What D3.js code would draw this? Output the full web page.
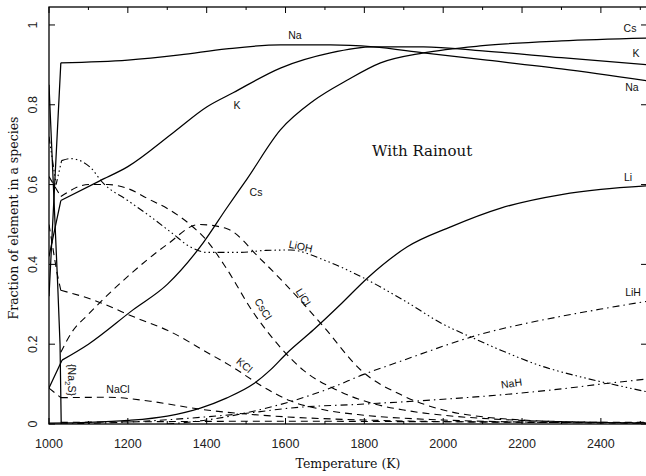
<!DOCTYPE html>
<meta charset="utf-8">
<title>With Rainout</title>
<style>
    body { margin: 0; background: #fff; }
    svg { display: block; }
    .tick-label { font-family: "Liberation Sans", Arial, sans-serif; font-size: 12.5px; fill: #222; }
    .axis-title { font-family: "DejaVu Serif", serif; font-size: 12.5px; fill: #111; }
    .curve-label { font-family: "Liberation Sans", Arial, sans-serif; font-size: 10.5px; fill: #111; }
    .curve { fill: none; stroke: #000; }
</style>
<svg width="646" height="476"></svg>
<script src="https://d3js.org/d3.v7.min.js"></script>
<script>

    // data: [temperature (K), fraction]
    var naData   = [[1000,0.32],[1030,0.905],[1200,0.912],[1332,0.925],[1450,0.94],[1587,0.95],[1714,0.95],[1823,0.945],[1950,0.93],[2100,0.913],[2300,0.89],[2520,0.86]];
    var kData    = [[1000,0.42],[1030,0.56],[1130,0.61],[1200,0.645],[1315,0.73],[1401,0.795],[1467,0.83],[1587,0.892],[1714,0.93],[1823,0.945],[1950,0.945],[2100,0.935],[2300,0.918],[2520,0.90]];
    var csData   = [[1000,0.09],[1033,0.16],[1100,0.2],[1213,0.286],[1300,0.35],[1391,0.454],[1450,0.54],[1503,0.615],[1587,0.737],[1671,0.81],[1757,0.862],[1841,0.905],[1950,0.93],[2100,0.948],[2300,0.96],[2520,0.967]];
    var liData   = [[1000,0.002],[1100,0.004],[1200,0.009],[1300,0.02],[1384,0.04],[1450,0.065],[1518,0.1],[1561,0.135],[1604,0.178],[1671,0.236],[1740,0.3],[1808,0.366],[1909,0.444],[2019,0.494],[2146,0.541],[2300,0.575],[2400,0.588],[2520,0.597]];
    var na2sData = [[1000,0.85],[1022,0.35],[1028,0.2],[1031,0]];
    var liohData = [[1000,0.72],[1018,0.6],[1032,0.66],[1055,0.665],[1104,0.644],[1137,0.604],[1200,0.56],[1257,0.52],[1310,0.48],[1358,0.444],[1401,0.43],[1485,0.43],[1550,0.435],[1612,0.436],[1700,0.41],[1790,0.37],[1900,0.31],[2000,0.25],[2070,0.218],[2146,0.185],[2250,0.145],[2349,0.118],[2450,0.095],[2520,0.08]];
    var csclData = [[1000,0.62],[1030,0.57],[1100,0.6],[1150,0.6],[1200,0.59],[1250,0.565],[1300,0.54],[1358,0.5],[1400,0.46],[1450,0.39],[1518,0.28],[1580,0.2],[1645,0.135],[1730,0.085],[1815,0.053],[1900,0.035],[2000,0.022],[2100,0.014],[2200,0.009],[2400,0.004],[2520,0.003]];
    var liclData = [[1030,0.18],[1058,0.23],[1100,0.275],[1200,0.37],[1300,0.45],[1380,0.5],[1450,0.49],[1536,0.414],[1600,0.35],[1700,0.24],[1790,0.136],[1900,0.07],[2000,0.035],[2100,0.018],[2200,0.01],[2400,0.004],[2520,0.002]];
    var kclData  = [[1000,0.5],[1020,0.38],[1030,0.335],[1100,0.315],[1231,0.262],[1300,0.235],[1400,0.18],[1470,0.14],[1540,0.095],[1612,0.058],[1700,0.035],[1800,0.022],[2000,0.01],[2200,0.005],[2520,0.002]];
    var naclData = [[1000,0.09],[1030,0.066],[1150,0.067],[1257,0.057],[1384,0.037],[1500,0.025],[1600,0.018],[1800,0.01],[2000,0.006],[2520,0.003]];
    var lihData  = [[1300,0],[1400,0.01],[1500,0.028],[1612,0.056],[1714,0.09],[1800,0.125],[1900,0.16],[2000,0.195],[2095,0.225],[2200,0.25],[2300,0.27],[2400,0.288],[2520,0.308]];
    var nahData  = [[1030,0],[1200,0.005],[1400,0.018],[1511,0.028],[1612,0.04],[1800,0.05],[2000,0.062],[2146,0.073],[2300,0.088],[2400,0.1],[2520,0.113]];
    var minorData = [[1030,0.004],[1300,0.006],[1600,0.007],[1900,0.006],[2200,0.005],[2520,0.004]];

    var xTicks = [1000, 1200, 1400, 1600, 1800, 2000, 2200, 2400];
    var yTicks = [0, 0.2, 0.4, 0.6, 0.8, 1];
    var yTickText = ["0", "0.2", "0.4", "0.6", "0.8", "1"];

    var svg = d3.select("svg"),
        plotL = 49, plotR = 647, plotT = 7, plotB = 424;

    var x = d3.scaleLinear().domain([1000, 2517]).range([plotL, plotR]);
    var y = d3.scaleLinear().domain([0, 1.045]).range([plotB, plotT]);

    var smooth = d3.line()
        .x(function(d) { return x(d[0]); })
        .y(function(d) { return y(d[1]); })
        .curve(d3.curveMonotoneX);
    var straight = d3.line()
        .x(function(d) { return x(d[0]); })
        .y(function(d) { return y(d[1]); });

    svg.append("clipPath").attr("id", "plot")
        .append("rect")
        .attr("x", plotL).attr("y", plotT)
        .attr("width", plotR - plotL).attr("height", plotB - plotT);

    var dashed = "7,5",
        dashDot = "7,4,1.5,4",
        dashDot3 = "7,3,1.5,3,1.5,3,1.5,3";

    // knee: points up to this index are joined by straight segments (the sharp jump near 1030 K)
    var series = [
        {data: naData, dash: null, knee: 1},
        {data: kData, dash: null, knee: 1},
        {data: csData, dash: null, knee: 1},
        {data: liData, dash: null, knee: 0},
        {data: na2sData, dash: null, knee: 3},
        {data: liohData, dash: dashDot3, knee: 2},
        {data: csclData, dash: dashed, knee: 1},
        {data: liclData, dash: dashed, knee: 0},
        {data: kclData, dash: dashed, knee: 2},
        {data: naclData, dash: dashed, knee: 1},
        {data: lihData, dash: dashDot, knee: 0},
        {data: nahData, dash: dashDot, knee: 0},
        {data: minorData, dash: dashed, knee: 0}
    ];

    function pathFor(s) {
        var d = "";
        if (s.knee > 0) d += straight(s.data.slice(0, s.knee + 1));
        if (s.knee < s.data.length - 1) d += smooth(s.data.slice(s.knee));
        return d;
    }

    var curves = svg.append("g").attr("clip-path", "url(#plot)");
    curves.selectAll("path")
        .data(series)
        .enter().append("path")
        .attr("class", "curve")
        .attr("stroke-width", function(d) { return d.dash ? 1.1 : 1.25; })
        .attr("stroke-dasharray", function(d) { return d.dash; })
        .attr("d", pathFor);

    // frame
    svg.append("rect")
        .attr("x", plotL).attr("y", plotT)
        .attr("width", plotR - plotL).attr("height", plotB - plotT)
        .attr("fill", "none").attr("stroke", "#000").attr("stroke-width", 1.3);

    // ticks point inward on all four sides
    var xMinor = d3.range(1000, 2501, 100);
    var ticks = svg.append("g").attr("stroke", "#000").attr("stroke-width", 1);
    xMinor.forEach(function(t) {
        var len = (t % 200 === 0) ? 6 : 3;
        ticks.append("line").attr("x1", x(t)).attr("x2", x(t)).attr("y1", plotB).attr("y2", plotB - len);
        ticks.append("line").attr("x1", x(t)).attr("x2", x(t)).attr("y1", plotT).attr("y2", plotT + len);
    });
    yTicks.forEach(function(v) {
        ticks.append("line").attr("x1", plotL).attr("x2", plotL + 6).attr("y1", y(v)).attr("y2", y(v));
        ticks.append("line").attr("x1", plotR).attr("x2", plotR - 6).attr("y1", y(v)).attr("y2", y(v));
    });

    svg.selectAll(".xlab")
        .data(xTicks)
        .enter().append("text")
        .attr("class", "tick-label")
        .attr("x", function(d) { return x(d); })
        .attr("y", 448)
        .attr("text-anchor", "middle")
        .text(function(d) { return d; });

    svg.selectAll(".ylab")
        .data(yTicks)
        .enter().append("text")
        .attr("class", "tick-label")
        .attr("transform", function(d) { return "translate(37," + y(d) + ") rotate(-90)"; })
        .attr("text-anchor", "middle")
        .text(function(d, i) { return yTickText[i]; });

    svg.append("text")
        .attr("class", "axis-title")
        .attr("x", 348).attr("y", 468)
        .attr("text-anchor", "middle")
        .text("Temperature (K)");

    svg.append("text")
        .attr("class", "axis-title")
        .attr("transform", "translate(18,218) rotate(-90)")
        .attr("text-anchor", "middle")
        .text("Fraction of element in a species");

    svg.append("text")
        .attr("class", "axis-title")
        .attr("x", 372).attr("y", 156)
        .style("font-size", "15px")
        .text("With Rainout");

    // curve labels: [text, x, y, rotation]
    var labels = [
        ["Na", 295, 39, 0],
        ["K", 237, 109, 0],
        ["Cs", 256, 196, 0],
        ["Cs", 630, 32, 0],
        ["K", 636, 57, 0],
        ["Na", 632, 91, 0],
        ["Li", 628, 181, 0],
        ["LiH", 633, 296, 0],
        ["NaH", 512, 387, -8],
        ["LiOH", 300, 250, 12],
        ["LiCl", 300, 299, 58],
        ["CsCl", 260, 311, 58],
        ["KCl", 242, 368, 40],
        ["NaCl", 118, 393, 0]
    ];
    svg.selectAll(".clab")
        .data(labels)
        .enter().append("text")
        .attr("class", "curve-label")
        .attr("text-anchor", "middle")
        .attr("transform", function(d) { return "translate(" + d[1] + "," + d[2] + ") rotate(" + d[3] + ")"; })
        .text(function(d) { return d[0]; });

    var na2s = svg.append("text")
        .attr("class", "curve-label")
        .attr("text-anchor", "middle")
        .attr("transform", "translate(68,380) rotate(90)");
    na2s.append("tspan").text("{Na");
    na2s.append("tspan").attr("dy", 3).style("font-size", "8px").text("2");
    na2s.append("tspan").attr("dy", -3).text("S}");

</script>
